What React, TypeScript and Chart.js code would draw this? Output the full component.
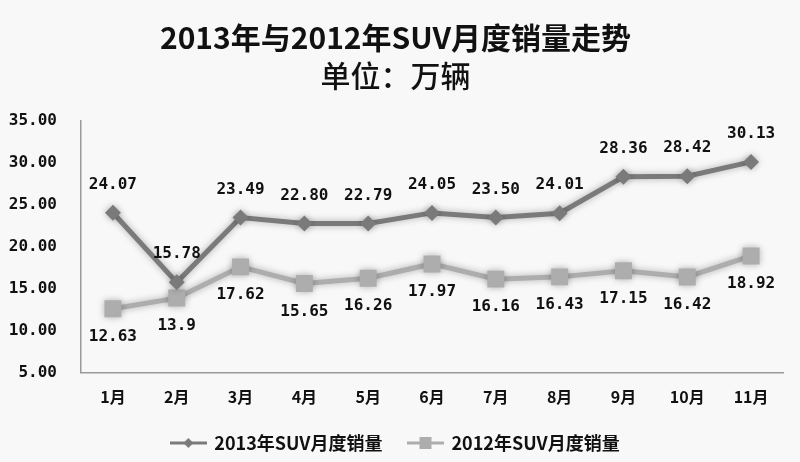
import React, { useEffect, useRef } from "react";
import { Chart, registerables } from "chart.js";

Chart.register(...registerables);

const months = ["1月", "2月", "3月", "4月", "5月", "6月", "7月", "8月", "9月", "10月", "11月"];
const sales2013 = [24.07, 15.78, 23.49, 22.8, 22.79, 24.05, 23.5, 24.01, 28.36, 28.42, 30.13];
const sales2012 = [12.63, 13.9, 17.62, 15.65, 16.26, 17.97, 16.16, 16.43, 17.15, 16.42, 18.92];
const labels2013 = ["24.07", "15.78", "23.49", "22.80", "22.79", "24.05", "23.50", "24.01", "28.36", "28.42", "30.13"];
const labels2012 = ["12.63", "13.9", "17.62", "15.65", "16.26", "17.97", "16.16", "16.43", "17.15", "16.42", "18.92"];
const seriesNames = ["2013年SUV月度销量", "2012年SUV月度销量"];
const yTicks = [5, 10, 15, 20, 25, 30, 35];

const C2013 = "#7a7a7a";
const C2012 = "#adadad";
const FONT = "'Noto Sans CJK SC', 'DejaVu Sans', sans-serif";
const NUMFONT = "'DejaVu Sans Mono', 'Liberation Mono', monospace";

function legendIcon(color: string, style: "diamond" | "square"): HTMLCanvasElement {
  const c = document.createElement("canvas");
  c.width = 37;
  c.height = 14;
  const g = c.getContext("2d")!;
  g.strokeStyle = color;
  g.lineWidth = 3;
  g.beginPath();
  g.moveTo(0, 7);
  g.lineTo(37, 7);
  g.stroke();
  g.fillStyle = color;
  if (style === "diamond") {
    g.beginPath();
    g.moveTo(18.5, 2);
    g.lineTo(23.5, 7);
    g.lineTo(18.5, 12);
    g.lineTo(13.5, 7);
    g.closePath();
    g.fill();
  } else {
    g.fillRect(12.5, 1, 12, 12);
  }
  return c;
}

const shadowPlugin = {
  id: "lineShadow",
  beforeDatasetDraw(chart: any) {
    const ctx = chart.ctx;
    ctx.save();
    ctx.shadowColor = "rgba(0,0,0,0.3)";
    ctx.shadowBlur = 7;
  },
  afterDatasetDraw(chart: any) {
    chart.ctx.restore();
  },
};

const valueLabelPlugin = {
  id: "valueLabels",
  afterDatasetsDraw(chart: any) {
    const ctx = chart.ctx;
    ctx.save();
    ctx.font = "bold 16px " + NUMFONT;
    ctx.fillStyle = "#111";
    ctx.textAlign = "center";
    ctx.textBaseline = "middle";
    const sets = [
      { idx: 0, texts: labels2013, dy: -28 },
      { idx: 1, texts: labels2012, dy: 28 },
    ];
    sets.forEach((s) => {
      const meta = chart.getDatasetMeta(s.idx);
      meta.data.forEach((pt: any, i: number) => {
        ctx.fillText(s.texts[i], pt.x, pt.y + s.dy);
      });
    });
    ctx.restore();
  },
};

export default function App() {
  const ref = useRef<HTMLCanvasElement>(null);
  useEffect(() => {
    document.body.style.margin = "0";
    const icons = [legendIcon(C2013, "diamond"), legendIcon(C2012, "square")];
    const chart = new Chart(ref.current!, {
      type: "line",
      data: {
        labels: months,
        datasets: [
          {
            label: seriesNames[0],
            data: sales2013,
            borderColor: C2013,
            backgroundColor: C2013,
            borderWidth: 5,
            pointStyle: "rectRot",
            pointRadius: 8,
            pointBorderWidth: 0,
            tension: 0,
          },
          {
            label: seriesNames[1],
            data: sales2012,
            borderColor: C2012,
            backgroundColor: C2012,
            borderWidth: 5,
            pointStyle: "rect",
            pointRadius: 12,
            pointBorderWidth: 0,
            tension: 0,
          },
        ],
      },
      options: {
        animation: false,
        responsive: false,
        layout: { autoPadding: false, padding: { left: 8, right: 17, top: 0, bottom: 0 } },
        scales: {
          x: {
            offset: true,
            grid: { display: false, drawTicks: false },
            border: { display: true, color: "#9a9a9a", width: 1.5 },
            ticks: { color: "#111", font: { family: FONT, size: 16, weight: "bold" }, padding: 15 },
            afterFit: (s: any) => {
              s.height = s.height - 14;
            },
          },
          y: {
            min: 5,
            max: 35,
            afterBuildTicks: (axis: any) => {
              axis.ticks = yTicks.map((v) => ({ value: v }));
            },
            grid: { display: false, drawTicks: false },
            border: { display: true, color: "#9a9a9a", width: 1.5 },
            ticks: {
              color: "#111",
              font: { family: NUMFONT, size: 16, weight: "bold" },
              padding: 24,
              callback: (v: any) => Number(v).toFixed(2),
            },
            afterFit: (s: any) => {
              s.width = 73;
            },
          },
        },
        plugins: {
          title: {
            display: true,
            text: "2013年与2012年SUV月度销量走势",
            color: "#111",
            font: { family: FONT, size: 30, weight: "bold", lineHeight: 1.2 },
            padding: { top: 20, bottom: 2 },
          },
          subtitle: {
            display: true,
            text: "单位：万辆",
            color: "#111",
            font: { family: FONT, size: 30, weight: "500", lineHeight: 1.2 },
            padding: { top: 0, bottom: 27 },
          },
          legend: {
            position: "bottom",
            labels: {
              color: "#111",
              font: { family: FONT, size: 18, weight: "bold" },
              usePointStyle: true,
              pointStyleWidth: 34,
              boxHeight: 14,
              padding: 26,
              generateLabels: (ch: any) => {
                const items = Chart.defaults.plugins.legend.labels.generateLabels(ch);
                return items.map((it: any, i: number) => ({ ...it, pointStyle: icons[i] }));
              },
            },
          },
          tooltip: { enabled: false },
        },
      },
      plugins: [shadowPlugin, valueLabelPlugin],
    } as any);
    return () => chart.destroy();
  }, []);
  return (
    <div style={{ position: "fixed", left: 0, top: 0, width: 800, height: 462, background: "#f8f8f8" }}>
      <canvas ref={ref} width={800} height={462} style={{ width: 800, height: 462, display: "block" }} />
    </div>
  );
}
